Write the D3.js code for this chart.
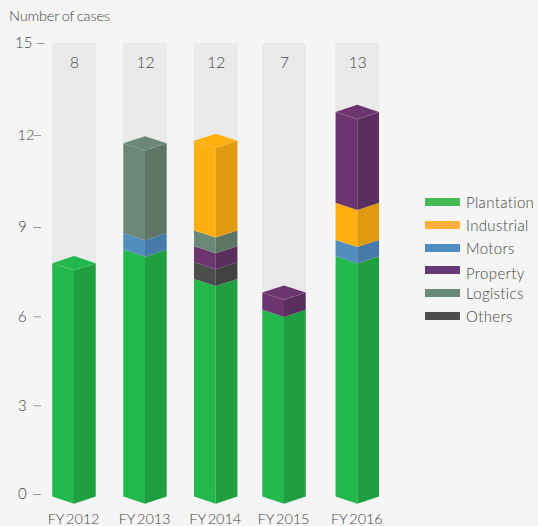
<!DOCTYPE html>
<html>
<head>
<meta charset="utf-8">
<script src="https://cdn.jsdelivr.net/npm/d3@7/dist/d3.min.js"></script>
<style>
html,body{margin:0;padding:0;background:#f5f5f5;overflow:hidden}
svg{display:block}
text{font-family:Lato,"Open Sans",sans-serif;font-weight:300;fill:#444}
</style>
</head>
<body>
<svg id="chart" width="538" height="526"></svg>
<script>
const categories = ["FY 2012","FY 2013","FY 2014","FY 2015","FY 2016"];
const totals = [8,12,12,7,13];
const yTicks = [0,3,6,9,12,15];
const seriesNames = ["Plantation","Industrial","Motors","Property","Logistics","Others"];

const plantation = [7.87,8.33,7.34,6.30,8.10];
const industrial = [0,0,2.92,0,1.22];
const motors     = [0,0.55,0,0,0.55];
const property   = [0,0,0.53,0.58,2.96];
const logistics  = [0,2.93,0.53,0,0];
const others     = [0,0,0.57,0,0];

// bottom-to-top stacking differs bar by bar in the reference
const stackOrders = [
  ["Plantation"],
  ["Plantation","Motors","Logistics"],
  ["Plantation","Others","Property","Logistics","Industrial"],
  ["Plantation","Property"],
  ["Plantation","Motors","Industrial","Property"]
];

const seriesValues = {Plantation:plantation,Industrial:industrial,Motors:motors,Property:property,Logistics:logistics,Others:others};
const frontColor = d3.scaleOrdinal(seriesNames,["#23b84b","#ffb00f","#528dbf","#6c3570","#6b8978","#4e4d4e"]);
const sideColor  = d3.scaleOrdinal(seriesNames,["#1f9f40","#df9a0e","#477aa8","#5a2e5e","#5d7565","#434243"]);
const legendColor= d3.scaleOrdinal(seriesNames,["#46b955","#ffb03a","#508dc0","#633a75","#6b8978","#4d4d4d"]);

const svg = d3.select("#chart");
const x = d3.scaleOrdinal(categories,[74,145,215.7,284,357.3]);
const y = d3.scaleLinear().domain(yTicks).range([494,405.3,316.3,227,135,43]);
const halfW = 21.7, depth = 7.2, baseOffset = 2.5;

// Columns behind the bars
svg.append("g").selectAll("rect").data(categories).join("rect")
  .attr("x",d=>x(d)-22).attr("width",44)
  .attr("y",y(15)).attr("height",y(0)-y(15))
  .attr("fill","#eaeaea");

// Axis
const axis = d3.axisLeft(y).tickValues(yTicks).tickSize(7.5).tickPadding(8);
const ax = svg.append("g").attr("transform","translate(41,0)").call(axis);
ax.select(".domain").remove();
ax.selectAll(".tick line").attr("stroke","#999").attr("stroke-width",1);
ax.selectAll(".tick text")
  .style("font-size","15px").style("fill","#444")
  .attr("text-anchor","start").attr("x",-23);
ax.selectAll(".tick").filter(d=>d===15)
  .attr("transform",`translate(3.5,${y(15)+0.5})`)
  .select("text").attr("x",-29.5);
ax.selectAll(".tick").filter(d=>d===12).select("text").attr("x",-23.5).style("font-size","14.5px");

// Bars
const pts = a => a.map(p=>p.join(",")).join(" ");
const bars = svg.append("g");
categories.forEach((c,i)=>{
  const cx = x(c);
  let cum = 0;
  const g = bars.append("g");
  stackOrders[i].forEach((name,k)=>{
    const v = seriesValues[name][i];
    const yb = y(cum)+baseOffset, yt = y(cum+v)+baseOffset;
    cum += v;
    g.append("polygon").attr("fill",frontColor(name))
      .attr("points",pts([[cx-halfW,yt],[cx,yt+depth],[cx,yb+depth],[cx-halfW,yb]]));
    g.append("polygon").attr("fill",sideColor(name))
      .attr("points",pts([[cx,yt+depth],[cx+halfW,yt],[cx+halfW,yb],[cx,yb+depth]]));
    if(k===stackOrders[i].length-1){
      g.append("polygon").attr("fill",frontColor(name))
        .attr("points",pts([[cx-halfW,yt],[cx,yt-depth],[cx+halfW,yt],[cx,yt+depth]]));
      g.append("polyline").attr("fill","none")
        .attr("stroke","#fff").attr("stroke-opacity",0.15).attr("stroke-width",0.7)
        .attr("stroke-dasharray","2 1.5")
        .attr("points",pts([[cx-halfW,yt],[cx,yt+depth],[cx+halfW,yt]]));
    }
  });
});

// Totals
svg.append("g").selectAll("text").data(categories).join("text")
  .attr("x",d=>x(d)+0.5).attr("y",67.5).attr("text-anchor","middle")
  .style("font-size","15.5px")
  .text((d,i)=>totals[i]);

// Category labels
svg.append("g").selectAll("text").data(categories).join("text")
  .attr("x",d=>x(d)-0.5).attr("y",524).attr("text-anchor","middle")
  .style("font-size","14.5px").style("word-spacing","-1.5px").style("letter-spacing","-0.1px")
  .text(d=>d);

// Title
svg.append("text").attr("x",9).attr("y",21).style("font-size","14.5px")
  .style("word-spacing","-1px").style("letter-spacing","-0.15px").text("Number of cases");

// Legend
const legendY = d3.scaleOrdinal(seriesNames,[198,221,244,266,289,312]);
const legendTextY = d3.scaleOrdinal(seriesNames,[208,231,254,279,299,322]);
const lg = svg.append("g");
lg.selectAll("rect").data(seriesNames).join("rect")
  .attr("x",425).attr("width",35).attr("height",8)
  .attr("y",d=>legendY(d)).attr("fill",d=>legendColor(d));
lg.selectAll("text").data(seriesNames).join("text")
  .attr("x",466).attr("y",d=>legendTextY(d))
  .style("font-size","15px").style("letter-spacing","0.35px")
  .text(d=>d);
</script>
</body>
</html>
